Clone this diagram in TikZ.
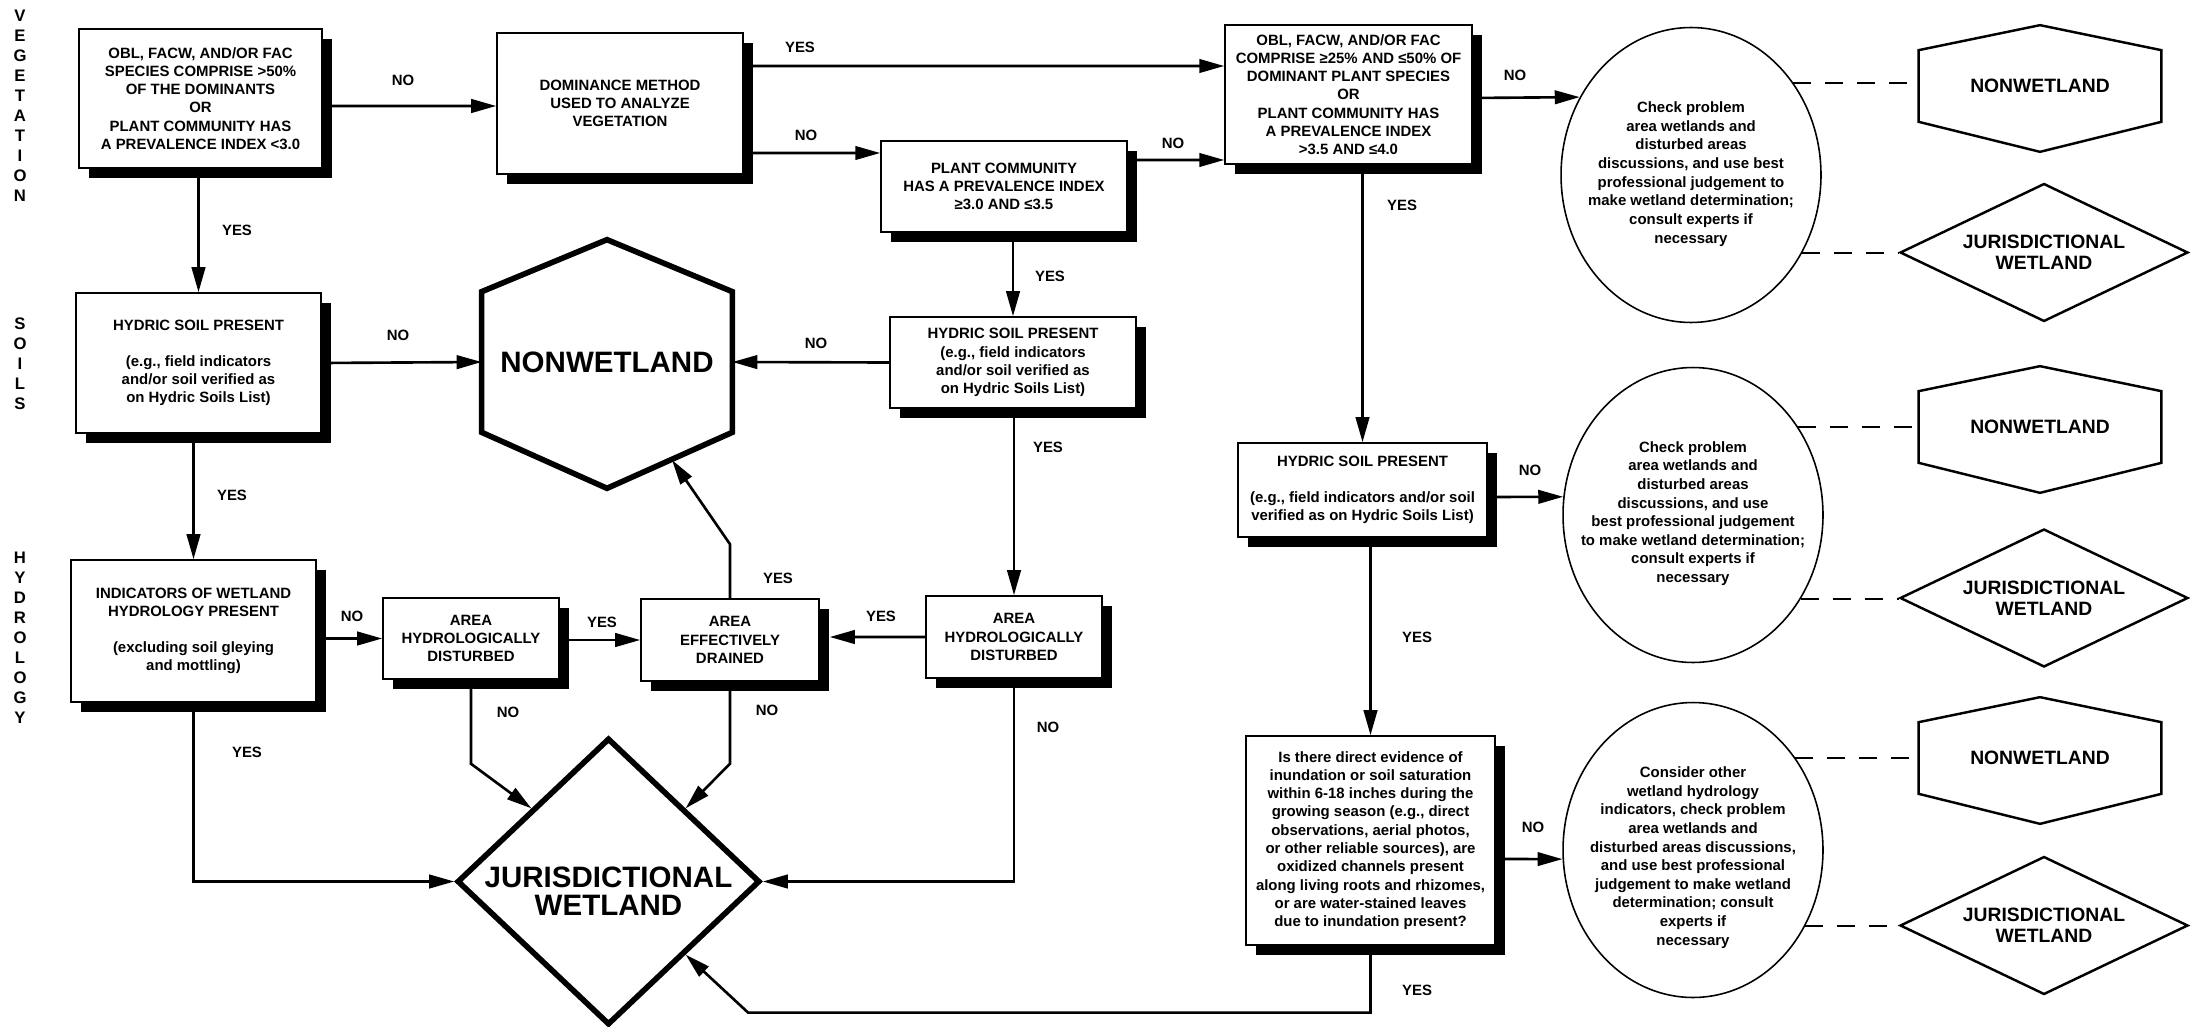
\documentclass[tikz,border=0pt]{standalone}
\usepackage{fontspec}
\setmainfont{Liberation Sans}
\usepackage{tikz}
\usetikzlibrary{arrows.meta, shapes.geometric, shadows}

\tikzset{
  box/.style = {draw, fill = white, line width = 0.9pt, inner sep = 2pt, align = center,
    font = \fontsize{8.5}{10.4}\selectfont\bfseries,
    drop shadow = {shadow xshift = 0.2cm, shadow yshift = -0.2cm, fill = black, opacity = 1}},
  flow/.style = {line width = 1.5pt, -{Triangle[length = 0.5cm, width = 0.27cm]}},
  answer/.style = {font = \fontsize{8.5}{10}\selectfont\bfseries},
  oval/.style = {draw, ellipse, line width = 0.9pt, minimum width = 5.2cm, minimum height = 5.9cm, inner sep = 0pt},
  ovaltext/.style = {align = center, font = \fontsize{8.5}{10.6}\selectfont\bfseries},
  bigline/.style = {line width = 3.2pt, line join = miter},
  smallline/.style = {line width = 1.4pt},
  dashline/.style = {line width = 1.1pt, dash pattern = on 0.36cm off 0.28cm},
  sidelabel/.style = {align = center, font = \fontsize{9.5}{11.4}\selectfont\bfseries},
  bigword/.style = {align = center, font = \fontsize{16.8}{16}\selectfont\bfseries},
  smallword/.style = {align = center, font = \fontsize{11}{12}\selectfont\bfseries}
}

\begin{document}
\begin{tikzpicture}[x = 0.02cm, y = -0.02cm]
      \fill [white] (0,0) rectangle (2196,1027);
      \useasboundingbox (0,0) rectangle (2196,1027);
      \node [sidelabel] (vegetation) at (20,106) {V\\E\\G\\E\\T\\A\\T\\I\\O\\N};
      \node [sidelabel] (soils) at (20,364) {S\\O\\I\\L\\S};
      \node [sidelabel] (hydrology) at (20,638) {H\\Y\\D\\R\\O\\L\\O\\G\\Y};
      \node [box, minimum width = 4.86cm, minimum height = 2.78cm] (boxA) at (200.5,98.5)
        {OBL, FACW, AND/OR FAC\\SPECIES COMPRISE >50\%\\OF THE DOMINANTS\\OR\\PLANT COMMUNITY HAS\\A PREVALENCE INDEX <3.0};
      \node [box, minimum width = 4.92cm, minimum height = 2.82cm] (boxB) at (620,103.5)
        {DOMINANCE METHOD\\USED TO ANALYZE\\VEGETATION};
      \node [box, minimum width = 4.92cm, minimum height = 1.82cm] (boxE) at (1004,186.5)
        {PLANT COMMUNITY\\HAS A PREVALENCE INDEX\\≥3.0 AND ≤3.5};
      \node [box, minimum width = 4.94cm, minimum height = 2.78cm] (boxD) at (1348.5,94.5)
        {OBL, FACW, AND/OR FAC\\COMPRISE ≥25\% AND ≤50\% OF\\DOMINANT PLANT SPECIES\\OR\\PLANT COMMUNITY HAS\\A PREVALENCE INDEX\\>3.5 AND ≤4.0};
      \node [box, minimum width = 4.9cm, minimum height = 2.8cm] (boxC) at (198.5,363)
        {HYDRIC SOIL PRESENT\\[10pt](e.g., field indicators\\and/or soil verified as\\on Hydric Soils List)};
      \node [box, minimum width = 4.92cm, minimum height = 1.82cm] (boxG) at (1013,362.5)
        {HYDRIC SOIL PRESENT\\(e.g., field indicators\\and/or soil verified as\\on Hydric Soils List)};
      \node [box, minimum width = 4.98cm, minimum height = 1.88cm] (boxF) at (1362.5,490)
        {HYDRIC SOIL PRESENT\\[10pt](e.g., field indicators and/or soil\\verified as on Hydric Soils List)};
      \node [box, minimum width = 4.9cm, minimum height = 2.84cm] (boxH) at (193.5,631)
        {INDICATORS OF WETLAND\\HYDROLOGY PRESENT\\[10pt](excluding soil gleying\\and mottling)};
      \node [box, minimum width = 3.52cm, minimum height = 1.62cm] (boxI) at (471,638.5)
        {AREA\\HYDROLOGICALLY\\DISTURBED};
      \node [box, minimum width = 3.56cm, minimum height = 1.64cm] (boxJ) at (730,640)
        {AREA\\EFFECTIVELY\\DRAINED};
      \node [box, minimum width = 3.52cm, minimum height = 1.64cm] (boxK) at (1014,637)
        {AREA\\HYDROLOGICALLY\\DISTURBED};
      \node [box, minimum width = 4.98cm, minimum height = 4.18cm] (boxM) at (1370.5,840.5)
        {Is there direct evidence of\\inundation or soil saturation\\within 6-18 inches during the\\growing season (e.g., direct\\observations, aerial photos,\\or other reliable sources), are\\oxidized channels present\\along living roots and rhizomes,\\or are water-stained leaves\\due to inundation present?};
      \node [bigword, minimum width = 5cm, minimum height = 2.8cm, inner sep = 0pt] (nonwet) at (607,362) {NONWETLAND};
      \draw [bigline] (nonwet.north west) -- ([yshift = 1.04cm] nonwet.north) -- (nonwet.north east)
        -- (nonwet.south east) -- ([yshift = -1.12cm] nonwet.south) -- (nonwet.south west) -- cycle;
      \coordinate (nonwetSE) at (672,460);
      \node [diamond, draw, bigline, minimum width = 6.06cm, minimum height = 5.74cm, inner sep = 0pt] (jd) at (608.5,881.5) {};
      \node [bigword] (jdtext) at (608.5,891) {JURISDICTIONAL\\WETLAND};
      \node [oval] (check1) at (1691,175) {};
      \node [ovaltext] (check1text) at (1691,174) {Check problem\\area wetlands and\\disturbed areas\\discussions, and use best\\professional judgement to\\make wetland determination;\\consult experts if\\necessary};
      \node [oval] (check2) at (1693,515) {};
      \node [ovaltext] (check2text) at (1693,513.5) {Check problem\\area wetlands and\\disturbed areas\\discussions, and use\\best professional judgement\\to make wetland determination;\\consult experts if\\necessary};
      \node [oval] (check3) at (1693,850) {};
      \node [ovaltext] (check3text) at (1693,857.5) {Consider other\\wetland hydrology\\indicators, check problem\\area wetlands and\\disturbed areas discussions,\\and use best professional\\judgement to make wetland\\determination; consult\\experts if\\necessary};
      \foreach \row/\hy/\dy in {1/86/252.5, 2/427/598, 3/758/925.5}{
        \node [smallword, minimum width = 4.84cm, minimum height = 1.42cm, inner sep = 0pt] (nonwet\row) at (2040,\hy) {NONWETLAND};
        \draw [smallline] (nonwet\row.north west) -- ([yshift = 0.5cm] nonwet\row.north) -- (nonwet\row.north east)
          -- (nonwet\row.south east) -- ([yshift = -0.6cm] nonwet\row.south) -- (nonwet\row.south west) -- cycle;
        \node [diamond, draw, smallline, minimum width = 5.76cm, minimum height = 2.76cm, inner sep = 0pt] (jw\row) at (2044,\dy) {};
        \node [smallword] (jwtext\row) at (jw\row) {JURISDICTIONAL\\WETLAND};
      }
      \draw [flow] ([yshift = -0.15cm] boxA.east) -- ([yshift = -0.05cm] boxB.west);
      \draw [flow] ([yshift = 0.75cm] boxB.east) -- ([yshift = 0.57cm] boxD.west);
      \draw [flow] ([yshift = -0.99cm] boxB.east) -- ([yshift = 0.67cm] boxE.west);
      \draw [flow] ([yshift = 0.53cm] boxE.east) -- ([yshift = -1.31cm] boxD.west);
      \draw [flow] ([yshift = -0.07cm] boxD.east) -- (check1.145);
      \draw [flow] (boxD.south -| boxF.north) -- (boxF.north);
      \draw [flow] (boxA.south -| boxC.north) -- (boxC.north);
      \draw [flow] (boxE.south -| boxG.north) -- (boxG.north);
      \draw [flow] (boxC.east) -- (nonwet.west);
      \draw [flow] (boxG.west) -- (nonwet.east);
      \draw [flow] (boxC.south -| boxH.north) -- (boxH.north);
      \draw [flow] (boxG.south -| boxK.north) -- (boxK.north);
      \draw [flow] (boxH.east |- boxI.west) -- (boxI.west);
      \draw [flow] (boxI.east |- boxJ.west) -- (boxJ.west);
      \draw [flow] (boxK.west) -- ([xshift = 0.2cm, yshift = 0.06cm] boxJ.east);
      \draw [flow] (boxJ.north) -- ++(0,-54) -- (nonwetSE);
      \draw [flow] (boxI.south) -- ++(0,84) -- (jd.north west);
      \draw [flow] (boxJ.south) -- ++(0,82) -- (jd.north east);
      \draw [flow] (boxK.south) |- (jd.east);
      \draw [flow] (boxH.south) |- (jd.west);
      \draw [flow] (boxM.south) |- ([xshift = 1.25cm, yshift = -1.16cm] jd.south east) -- (jd.south east);
      \draw [flow] ([yshift = -0.14cm] boxF.east) -- (check2.172);
      \draw [flow] (boxF.south -| boxM.north) -- (boxM.north);
      \draw [flow] ([yshift = -0.37cm] boxM.east) -- (check3.184);
      \draw [dashline] (check1.42) -- (check1.42 -| nonwet1.west);
      \draw [dashline] (check1.-35) -- (check1.-35 -| jw1.west);
      \draw [dashline] (check2.40) -- (check2.40 -| nonwet2.west);
      \draw [dashline] (check2.-38) -- (check2.-38 -| jw2.west);
      \draw [dashline] (check3.42) -- (check3.42 -| nonwet3.west);
      \draw [dashline] (check3.-34) -- (check3.-34 -| jw3.west);
      \foreach \x/\y/\t [count = \i] in {403/80/NO, 800/47/YES, 806/135/NO, 1173/143/NO, 1515/75/NO, 1402/205/YES,
          237/230/YES, 1050/276/YES, 398/335/NO, 816/343/NO, 232/495/YES, 1417/637/YES, 1530/470/NO, 352/616/NO,
          602/622/YES, 778/578/YES, 881/616/YES, 1048/447/YES, 508/712/NO, 767/710/NO, 1048/727/NO, 247/752/YES,
          1533/827/NO, 1417/990/YES}{
        \node [answer] (answer\i) at (\x,\y) {\t};
      }
    \end{tikzpicture}
\end{document}
